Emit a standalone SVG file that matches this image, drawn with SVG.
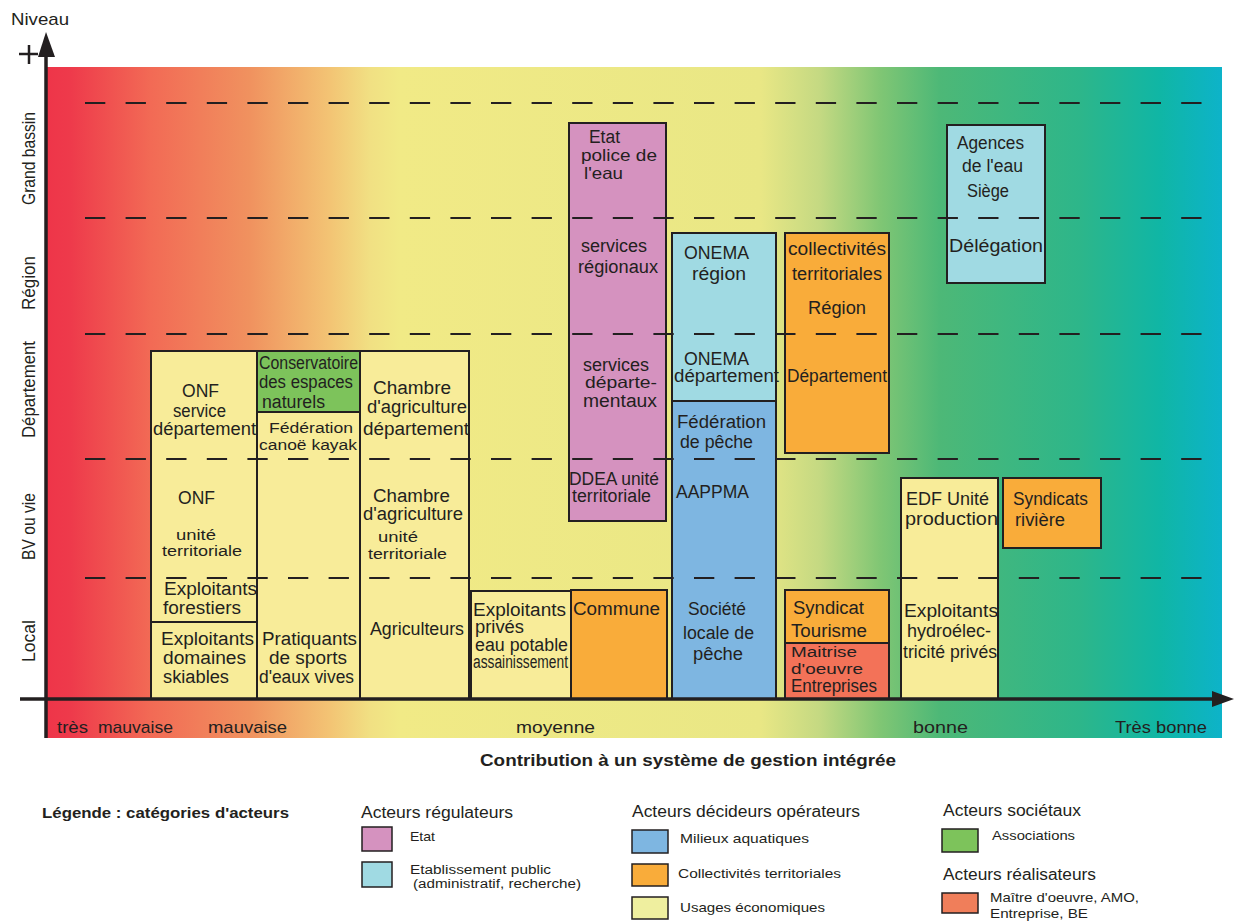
<svg xmlns="http://www.w3.org/2000/svg" width="1236" height="924" viewBox="0 0 1236 924">
<defs>
<linearGradient id="bg" gradientUnits="userSpaceOnUse" x1="47" y1="0" x2="1222" y2="0">
<stop offset="0" stop-color="#EE3549"/>
<stop offset="0.02" stop-color="#EE3A4B"/>
<stop offset="0.088" stop-color="#F26A55"/>
<stop offset="0.173" stop-color="#F0925F"/>
<stop offset="0.241" stop-color="#F3C474"/>
<stop offset="0.275" stop-color="#F1E083"/>
<stop offset="0.30" stop-color="#F1EA86"/>
<stop offset="0.607" stop-color="#E9E785"/>
<stop offset="0.658" stop-color="#C4D982"/>
<stop offset="0.709" stop-color="#80C674"/>
<stop offset="0.76" stop-color="#4DB877"/>
<stop offset="0.879" stop-color="#2DB68A"/>
<stop offset="0.947" stop-color="#10B6A5"/>
<stop offset="1" stop-color="#0DB3C9"/>
</linearGradient>
</defs>
<style>
.t{font-family:"Liberation Sans",Arial,sans-serif;font-size:18px;fill:#231F20}
.s{font-size:15.5px}
.m{font-size:16.5px}
.ax{font-family:"Liberation Sans",Arial,sans-serif;font-size:17px;fill:#231F20}
.lg{font-family:"Liberation Sans",Arial,sans-serif;font-size:16px;fill:#231F20}
.ls{font-family:"Liberation Sans",Arial,sans-serif;font-size:13px;fill:#231F20}
.lx{font-family:"Liberation Sans",Arial,sans-serif;font-size:12px;fill:#231F20}
.lb15{font-family:"Liberation Sans",Arial,sans-serif;font-size:15px;font-weight:bold;fill:#231F20}
.b{stroke:#231F20;stroke-width:2}
.sw{stroke:#231F20;stroke-width:1.5}
.dash{stroke:#231F20;stroke-width:1.8;stroke-dasharray:20.3 20.3;fill:none}
.yel{fill:#F8EC99}.pink{fill:#D592BF}.lb{fill:#A0DAE3}.blue{fill:#7EB6E1}.or{fill:#F9AC3A}.gr{fill:#7DC35B}.red{fill:#F37258}
</style>
<rect x="0" y="0" width="1236" height="924" fill="#FFFFFF"/>
<rect x="47" y="67" width="1175" height="671" fill="url(#bg)"/>

<g id="n-onf">
<rect class="b yel" x="151" y="351" width="106" height="271"/>
<text class="t" x="182" y="397" textLength="37" lengthAdjust="spacingAndGlyphs">ONF</text>
<text class="t" x="173" y="417" textLength="53" lengthAdjust="spacingAndGlyphs">service</text>
<text class="t" x="153" y="435" textLength="103" lengthAdjust="spacingAndGlyphs">département</text>
<text class="t" x="178" y="504" textLength="37" lengthAdjust="spacingAndGlyphs">ONF</text>
<text class="t s" x="176" y="540" textLength="40" lengthAdjust="spacingAndGlyphs">unité</text>
<text class="t s" x="162" y="556" textLength="80" lengthAdjust="spacingAndGlyphs">territoriale</text>
<text class="t" x="164" y="595" textLength="93" lengthAdjust="spacingAndGlyphs">Exploitants</text>
<text class="t" x="163" y="614" textLength="78" lengthAdjust="spacingAndGlyphs">forestiers</text>
</g>
<g id="n-skiables">
<rect class="b yel" x="151" y="622" width="106" height="77"/>
<text class="t" x="161" y="645" textLength="93" lengthAdjust="spacingAndGlyphs">Exploitants</text>
<text class="t" x="163" y="664" textLength="83" lengthAdjust="spacingAndGlyphs">domaines</text>
<text class="t" x="163" y="683" textLength="66" lengthAdjust="spacingAndGlyphs">skiables</text>
</g>
<g id="n-conservatoire">
<rect class="b gr" x="257" y="351" width="103" height="61"/>
<text class="t" x="259" y="369" textLength="99" lengthAdjust="spacingAndGlyphs">Conservatoire</text>
<text class="t" x="259" y="388" textLength="94" lengthAdjust="spacingAndGlyphs">des espaces</text>
<text class="t" x="262" y="408" textLength="63" lengthAdjust="spacingAndGlyphs">naturels</text>
</g>
<g id="n-canoe">
<rect class="b yel" x="257" y="412" width="103" height="287"/>
<text class="t s" x="269" y="433" textLength="84" lengthAdjust="spacingAndGlyphs">Fédération</text>
<text class="t s" x="259" y="450" textLength="98" lengthAdjust="spacingAndGlyphs">canoë kayak</text>
<text class="t" x="262" y="645" textLength="95" lengthAdjust="spacingAndGlyphs">Pratiquants</text>
<text class="t" x="269" y="664" textLength="78" lengthAdjust="spacingAndGlyphs">de sports</text>
<text class="t" x="259" y="683" textLength="95" lengthAdjust="spacingAndGlyphs">d'eaux vives</text>
</g>
<g id="n-chambre">
<rect class="b yel" x="360" y="351" width="109" height="348"/>
<text class="t" x="373" y="394" textLength="78" lengthAdjust="spacingAndGlyphs">Chambre</text>
<text class="t" x="367" y="413" textLength="100" lengthAdjust="spacingAndGlyphs">d'agriculture</text>
<text class="t" x="363" y="435" textLength="106" lengthAdjust="spacingAndGlyphs">département</text>
<text class="t" x="373" y="502" textLength="77" lengthAdjust="spacingAndGlyphs">Chambre</text>
<text class="t" x="363" y="520" textLength="100" lengthAdjust="spacingAndGlyphs">d'agriculture</text>
<text class="t s" x="378" y="542" textLength="40" lengthAdjust="spacingAndGlyphs">unité</text>
<text class="t s" x="368" y="559" textLength="79" lengthAdjust="spacingAndGlyphs">territoriale</text>
<text class="t" x="370" y="635" textLength="94" lengthAdjust="spacingAndGlyphs">Agriculteurs</text>
</g>
<g id="n-prives">
<rect class="b yel" x="471" y="591" width="100" height="108"/>
<text class="t" x="473" y="616" textLength="93" lengthAdjust="spacingAndGlyphs">Exploitants</text>
<text class="t" x="475" y="633" textLength="49" lengthAdjust="spacingAndGlyphs">privés</text>
<text class="t" x="475" y="651" textLength="93" lengthAdjust="spacingAndGlyphs">eau potable</text>
<text class="t" x="473" y="668" textLength="95" lengthAdjust="spacingAndGlyphs">assainissement</text>
</g>
<g id="n-commune">
<rect class="b or" x="571" y="590" width="96" height="109"/>
<text class="t" x="573" y="615" textLength="87" lengthAdjust="spacingAndGlyphs">Commune</text>
</g>
<g id="n-etat">
<rect class="b pink" x="569" y="123" width="97" height="398"/>
<text class="t" x="589" y="143" textLength="31" lengthAdjust="spacingAndGlyphs">Etat</text>
<text class="t m" x="581" y="161" textLength="76" lengthAdjust="spacingAndGlyphs">police de</text>
<text class="t m" x="584" y="179" textLength="39" lengthAdjust="spacingAndGlyphs">l'eau</text>
<text class="t" x="581" y="252" textLength="66" lengthAdjust="spacingAndGlyphs">services</text>
<text class="t" x="578" y="273" textLength="80" lengthAdjust="spacingAndGlyphs">régionaux</text>
<text class="t" x="583" y="371" textLength="66" lengthAdjust="spacingAndGlyphs">services</text>
<text class="t m" x="585" y="388" textLength="72" lengthAdjust="spacingAndGlyphs">départe-</text>
<text class="t" x="583" y="407" textLength="74" lengthAdjust="spacingAndGlyphs">mentaux</text>
<text class="t" x="569" y="485" textLength="90" lengthAdjust="spacingAndGlyphs">DDEA unité</text>
<text class="t" x="572" y="502" textLength="79" lengthAdjust="spacingAndGlyphs">territoriale</text>
</g>
<g id="n-onema">
<rect class="b lb" x="672" y="233" width="104" height="168"/>
<text class="t" x="684" y="259" textLength="65" lengthAdjust="spacingAndGlyphs">ONEMA</text>
<text class="t" x="692" y="280" textLength="54" lengthAdjust="spacingAndGlyphs">région</text>
<text class="t" x="684" y="365" textLength="65" lengthAdjust="spacingAndGlyphs">ONEMA</text>
<text class="t" x="674" y="382" textLength="105" lengthAdjust="spacingAndGlyphs">département</text>
</g>
<g id="n-peche">
<rect class="b blue" x="672" y="401" width="104" height="298"/>
<text class="t" x="677" y="428" textLength="89" lengthAdjust="spacingAndGlyphs">Fédération</text>
<text class="t" x="680" y="448" textLength="73" lengthAdjust="spacingAndGlyphs">de pêche</text>
<text class="t" x="676" y="498" textLength="73" lengthAdjust="spacingAndGlyphs">AAPPMA</text>
<text class="t" x="688" y="615" textLength="58" lengthAdjust="spacingAndGlyphs">Société</text>
<text class="t" x="683" y="639" textLength="71" lengthAdjust="spacingAndGlyphs">locale de</text>
<text class="t" x="693" y="660" textLength="50" lengthAdjust="spacingAndGlyphs">pêche</text>
</g>
<g id="n-collectivites">
<rect class="b or" x="785" y="233" width="104" height="220"/>
<text class="t" x="788" y="255" textLength="98" lengthAdjust="spacingAndGlyphs">collectivités</text>
<text class="t" x="792" y="280" textLength="90" lengthAdjust="spacingAndGlyphs">territoriales</text>
<text class="t" x="808" y="314" textLength="58" lengthAdjust="spacingAndGlyphs">Région</text>
<text class="t" x="787" y="382" textLength="100" lengthAdjust="spacingAndGlyphs">Département</text>
</g>
<g id="n-tourisme">
<rect class="b or" x="785" y="590" width="104" height="53"/>
<text class="t" x="793" y="614" textLength="71" lengthAdjust="spacingAndGlyphs">Syndicat</text>
<text class="t" x="791" y="637" textLength="76" lengthAdjust="spacingAndGlyphs">Tourisme</text>
</g>
<g id="n-maitrise">
<rect class="b red" x="785" y="643" width="104" height="56"/>
<text class="t s" x="791" y="657" textLength="66" lengthAdjust="spacingAndGlyphs">Maitrise</text>
<text class="t s" x="791" y="674" textLength="72" lengthAdjust="spacingAndGlyphs">d'oeuvre</text>
<text class="t" x="791" y="692" textLength="86" lengthAdjust="spacingAndGlyphs">Entreprises</text>
</g>
<g id="n-agences">
<rect class="b lb" x="947" y="125" width="98" height="158"/>
<text class="t" x="957" y="149" textLength="67" lengthAdjust="spacingAndGlyphs">Agences</text>
<text class="t" x="962" y="172" textLength="61" lengthAdjust="spacingAndGlyphs">de l'eau</text>
<text class="t" x="967" y="197" textLength="42" lengthAdjust="spacingAndGlyphs">Siège</text>
<text class="t" x="949" y="252" textLength="94" lengthAdjust="spacingAndGlyphs">Délégation</text>
</g>
<g id="n-edf">
<rect class="b yel" x="901" y="478" width="97" height="221"/>
<text class="t" x="906" y="505" textLength="83" lengthAdjust="spacingAndGlyphs">EDF Unité</text>
<text class="t" x="905" y="525" textLength="93" lengthAdjust="spacingAndGlyphs">production</text>
<text class="t" x="904" y="617" textLength="94" lengthAdjust="spacingAndGlyphs">Exploitants</text>
<text class="t" x="907" y="637" textLength="84" lengthAdjust="spacingAndGlyphs">hydroélec-</text>
<text class="t" x="903" y="658" textLength="94" lengthAdjust="spacingAndGlyphs">tricité privés</text>
</g>
<g id="n-riviere">
<rect class="b or" x="1003" y="478" width="98" height="70"/>
<text class="t" x="1013" y="505" textLength="75" lengthAdjust="spacingAndGlyphs">Syndicats</text>
<text class="t" x="1015" y="526" textLength="50" lengthAdjust="spacingAndGlyphs">rivière</text>
</g>

<g id="levels">
<line class="dash" x1="85" y1="103" x2="1202" y2="103"/>
<line class="dash" x1="85" y1="218" x2="1202" y2="218"/>
<line class="dash" x1="85" y1="334" x2="1202" y2="334"/>
<line class="dash" x1="85" y1="459" x2="1202" y2="459"/>
<line class="dash" x1="85" y1="578" x2="1202" y2="578"/>
</g>

<g id="connectors">
<line x1="46" y1="50" x2="46" y2="738" stroke="#231F20" stroke-width="3.5"/>
<polygon points="46,32 38,57 55,57" fill="#231F20"/>
<line x1="19" y1="54" x2="38" y2="54" stroke="#231F20" stroke-width="2.5"/>
<line x1="29" y1="45" x2="29" y2="64" stroke="#231F20" stroke-width="2.5"/>
<line x1="20" y1="699" x2="1215" y2="699" stroke="#231F20" stroke-width="3.5"/>
<polygon points="1234,699 1212,691 1212,707" fill="#231F20"/>
</g>

<g id="axis-labels">
<text class="ax" x="11" y="25" textLength="58" lengthAdjust="spacingAndGlyphs">Niveau</text>
<text class="t" transform="translate(35,158.5) rotate(-90)" text-anchor="middle" textLength="93" lengthAdjust="spacingAndGlyphs">Grand bassin</text>
<text class="t" transform="translate(35,283) rotate(-90)" text-anchor="middle" textLength="54" lengthAdjust="spacingAndGlyphs">Région</text>
<text class="t" transform="translate(35,389.5) rotate(-90)" text-anchor="middle" textLength="97" lengthAdjust="spacingAndGlyphs">Département</text>
<text class="t" transform="translate(35,526.5) rotate(-90)" text-anchor="middle" textLength="67" lengthAdjust="spacingAndGlyphs">BV ou vie</text>
<text class="t" transform="translate(35,641) rotate(-90)" text-anchor="middle" textLength="42" lengthAdjust="spacingAndGlyphs">Local</text>
<text class="ax" x="57" y="733" textLength="31" lengthAdjust="spacingAndGlyphs">très</text>
<text class="ax" x="98" y="733" textLength="75" lengthAdjust="spacingAndGlyphs">mauvaise</text>
<text class="ax" x="208" y="733" textLength="79" lengthAdjust="spacingAndGlyphs">mauvaise</text>
<text class="ax" x="516" y="733" textLength="79" lengthAdjust="spacingAndGlyphs">moyenne</text>
<text class="ax" x="913" y="733" textLength="55" lengthAdjust="spacingAndGlyphs">bonne</text>
<text class="ax" x="1115" y="733" textLength="92" lengthAdjust="spacingAndGlyphs">Très bonne</text>
<text class="lg" x="480" y="766" font-weight="bold" textLength="416" lengthAdjust="spacingAndGlyphs">Contribution à un système de gestion intégrée</text>
</g>

<g id="legend">
<text class="lb15" x="42" y="818" textLength="247" lengthAdjust="spacingAndGlyphs">Légende : catégories d'acteurs</text>
<text class="lg" x="361" y="818" textLength="152" lengthAdjust="spacingAndGlyphs">Acteurs régulateurs</text>
<rect class="sw pink" x="362" y="827" width="30" height="24"/>
<text class="ls" x="410" y="841" textLength="25" lengthAdjust="spacingAndGlyphs">Etat</text>
<rect class="sw lb" x="362" y="862" width="30" height="25"/>
<text class="lx" x="410" y="874" textLength="141" lengthAdjust="spacingAndGlyphs">Etablissement public</text>
<text class="lx" x="413" y="888" textLength="168" lengthAdjust="spacingAndGlyphs">(administratif, recherche)</text>
<text class="lg" x="632" y="817" textLength="228" lengthAdjust="spacingAndGlyphs">Acteurs décideurs opérateurs</text>
<rect class="sw blue" x="632" y="830" width="36" height="23"/>
<text class="ls" x="680" y="843" textLength="129" lengthAdjust="spacingAndGlyphs">Milieux aquatiques</text>
<rect class="sw or" x="632" y="864" width="36" height="22"/>
<text class="ls" x="678" y="878" textLength="163" lengthAdjust="spacingAndGlyphs">Collectivités territoriales</text>
<rect class="sw" fill="#EFEF9F" x="632" y="897" width="36" height="22"/>
<text class="ls" x="680" y="912" textLength="145" lengthAdjust="spacingAndGlyphs">Usages économiques</text>
<text class="lg" x="943" y="816" textLength="138" lengthAdjust="spacingAndGlyphs">Acteurs sociétaux</text>
<rect class="sw gr" x="942" y="829" width="36" height="23"/>
<text class="ls" x="992" y="840" textLength="83" lengthAdjust="spacingAndGlyphs">Associations</text>
<text class="lg" x="943" y="880" textLength="153" lengthAdjust="spacingAndGlyphs">Acteurs réalisateurs</text>
<rect class="sw" fill="#F07E5A" x="942" y="893" width="36" height="20"/>
<text class="ls" x="990" y="902" textLength="149" lengthAdjust="spacingAndGlyphs">Maître d'oeuvre, AMO,</text>
<text class="ls" x="990" y="918" textLength="98" lengthAdjust="spacingAndGlyphs">Entreprise, BE</text>
</g>
</svg>
